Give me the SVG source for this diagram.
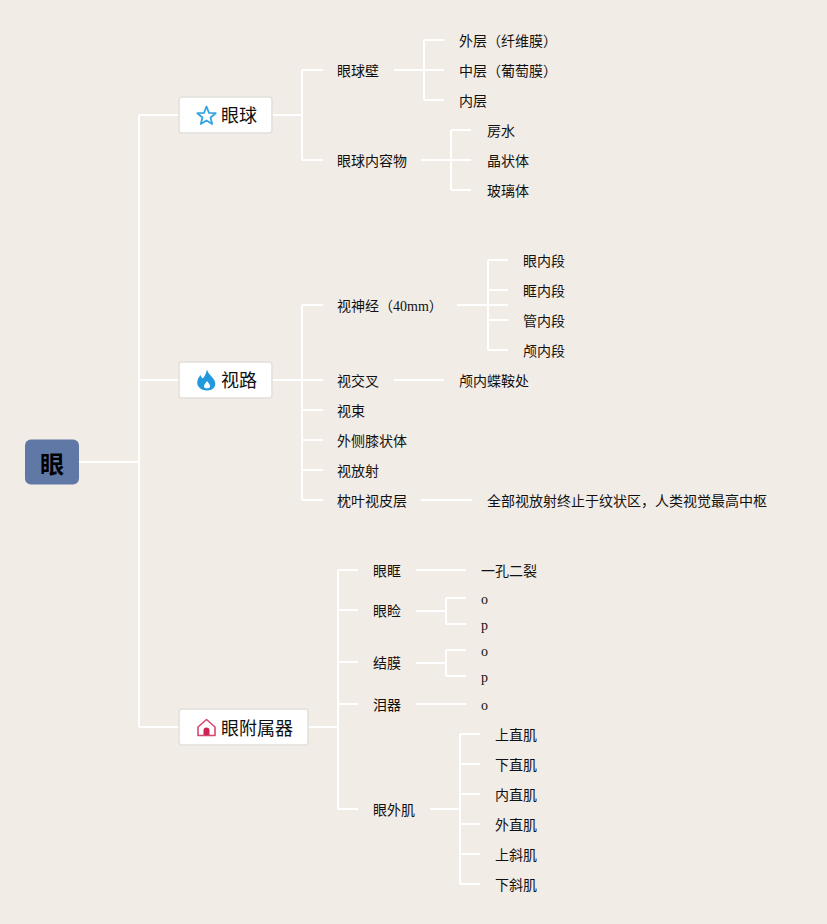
<svg xmlns="http://www.w3.org/2000/svg" width="827" height="924" viewBox="0 0 827 924">
<style>
text{font-family:"Liberation Serif","Noto Sans CJK SC",serif;fill:#111}
.t{font-size:14px}
.m{font-size:18px}
.j{font-family:"Liberation Serif","Noto Sans CJK JP",serif}
.c{fill:none;stroke:#fff;stroke-width:2}
.b{fill:#fff;stroke:#e2dfdc;stroke-width:1.5}
</style>
<rect width="827" height="924" fill="#f1ece6"/>
<g id="connectors" class="c">
<path d="M79 462H139M139 115V727M139 115H179M139 380H179M139 727H179"/>
<path d="M272 115H302M302 70V160M302 70H323M302 160H323"/>
<path d="M394 70H444M424 40V100M424 40H444M424 100H444"/>
<path d="M421 160H471M451 130V190M451 130H471M451 190H471"/>
<path d="M272 380H323M302 305V500M302 305H323M302 410H323M302 440H323M302 470H323M302 500H323"/>
<path d="M457 305H508M488 260V350M488 260H508M488 290H508M488 320H508M488 350H508"/>
<path d="M394 380H444"/>
<path d="M421 500H472"/>
<path d="M308 727H338M338 570V809M338 570H358M338 610H358M338 662H358M338 704H358M338 809H358"/>
<path d="M416 570H466"/>
<path d="M416 611H446M446 598V624M446 598H466M446 624H466"/>
<path d="M416 663H446M446 650V676M446 650H466M446 676H466"/>
<path d="M416 704H466"/>
<path d="M430 809H460M460 734V884M460 734H480M460 764H480M460 794H480M460 824H480M460 854H480M460 884H480"/>
</g>
<g id="root"><rect x="25" y="439.500" width="54" height="45" rx="6" fill="#5f78a6"/><text x="52" y="473" font-size="24" font-weight="700" text-anchor="middle" style="fill:#000">眼</text></g>
<g id="n-eyeball"><rect class="b" x="179" y="97" width="93" height="36" rx="3"/>
<path d="M206.500 106.500L209 112.800L215.700 113.200L210.500 117.500L212.200 124L206.500 120.400L200.800 124L202.500 117.500L197.300 113.200L204 112.800Z" fill="none" stroke="#35a4e0" stroke-width="1.800" stroke-linejoin="round"/>
<text class="m" x="221" y="122">眼球</text></g>
<g id="n-path"><rect class="b" x="179" y="362" width="93" height="36" rx="3"/>
<path d="M207 369.500C208 374 212 376 214.500 380.500C217 386 213.500 390.500 207 390.500C200.500 390.500 196 386 197.500 380.500C198 378 199.500 376.500 200.500 375C201 377 202 378 203 378.500C205 376 206 373 207 369.500ZM207 381C205.500 383.500 203.500 385 204 387C204.500 388.800 209.500 388.800 210 387C210.500 385 208.500 383 207 381Z" fill="#2299dd" fill-rule="evenodd"/>
<text class="m" x="221" y="387">视路</text></g>
<g id="n-adnexa"><rect class="b" x="179" y="709" width="129" height="36" rx="3"/>
<path d="M206.500 719.500L215 727V735.500H198V727Z" fill="none" stroke="#d9476f" stroke-width="1.600" stroke-linejoin="round"/>
<path d="M203.500 735V730.500A3 3 0 0 1 209.500 730.500V735Z" fill="#cc2255"/>
<text class="m" x="221" y="735">眼附属器</text></g>
<g id="labels" class="t">
<text class="t" x="337" y="76">眼球壁</text>
<text class="t" x="337" y="166">眼球内容物</text>
<text class="t" x="459" y="46">外层（纤维膜）</text>
<text class="t" x="459" y="76">中层（葡萄膜）</text>
<text class="t" x="459" y="106">内层</text>
<text class="t j" x="487" y="136">房水</text>
<text class="t" x="487" y="166">晶状体</text>
<text class="t" x="487" y="196">玻璃体</text>
<text class="t" x="337" y="311">视神经（40mm）</text>
<text class="t" x="337" y="386">视交叉</text>
<text class="t" x="337" y="416">视束</text>
<text class="t" x="337" y="446">外侧膝状体</text>
<text class="t" x="337" y="476">视放射</text>
<text class="t" x="337" y="506">枕叶视皮层</text>
<text class="t" x="523" y="266">眼内段</text>
<text class="t" x="523" y="296">眶内段</text>
<text class="t" x="523" y="326">管内段</text>
<text class="t" x="523" y="356">颅内段</text>
<text class="t" x="459" y="386">颅内蝶鞍处</text>
<text class="t" x="487" y="506">全部视放射终止于纹状区，人类视觉最高中枢</text>
<text class="t" x="373" y="576">眼眶</text>
<text class="t" x="373" y="616">眼睑</text>
<text class="t" x="373" y="668">结膜</text>
<text class="t" x="373" y="710">泪器</text>
<text class="t" x="373" y="815">眼外肌</text>
<text class="t" x="481" y="576">一孔二裂</text>
<text class="t" x="481" y="604">o</text>
<text class="t" x="481" y="630">p</text>
<text class="t" x="481" y="656">o</text>
<text class="t" x="481" y="682">p</text>
<text class="t" x="481" y="710">o</text>
<text class="t" x="495" y="740">上直肌</text>
<text class="t" x="495" y="770">下直肌</text>
<text class="t" x="495" y="800">内直肌</text>
<text class="t" x="495" y="830">外直肌</text>
<text class="t" x="495" y="860">上斜肌</text>
<text class="t" x="495" y="890">下斜肌</text>
</g>
</svg>
